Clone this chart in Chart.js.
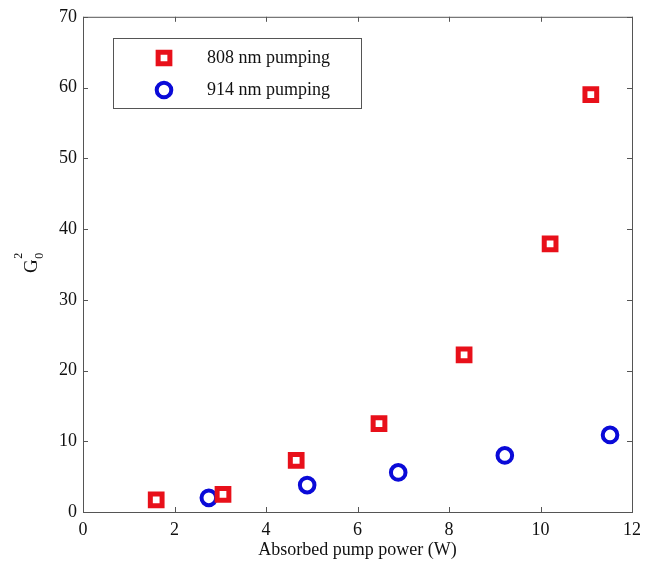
<!DOCTYPE html>
<html>
<head>
<meta charset="utf-8">
<script src="https://cdn.jsdelivr.net/npm/chart.js@4/dist/chart.umd.min.js"></script>
<style>
  html, body { margin: 0; padding: 0; background: #fff; }
  #wrap { width: 654px; height: 563px; }
</style>
</head>
<body>
<div id="wrap"><canvas id="myChart" width="654" height="563"></canvas></div>
<script>
// datos
const power808 = [1.60, 3.06, 4.66, 6.47, 8.33, 10.21, 11.10]
const gain808 = [1.7, 2.5, 7.3, 12.5, 22.2, 37.9, 59.0]
const power914 = [2.75, 4.90, 6.89, 9.22, 11.52]
const gain914 = [2.0, 3.8, 5.6, 8.0, 10.9]
const xTicks = [0, 2, 4, 6, 8, 10, 12]
const yTicks = [0, 10, 20, 30, 40, 50, 60, 70]

const serif = '"Liberation Serif", "DejaVu Serif", serif'
const frameColor = '#555'
const red = '#e8101a'
const blue = '#0a0ad8'

function toPoints(xs, ys) {
    return xs.map((x, i) => ({ x: x, y: ys[i] }))
}

// marco con marcas hacia adentro (estilo matlab)
const framePlugin = {
    id: 'frame',
    afterDraw(chart) {
        const { ctx, chartArea: a, scales } = chart
        ctx.save()
        ctx.strokeStyle = frameColor
        ctx.lineWidth = 1
        ctx.strokeRect(a.left + 0.5, a.top + 0.5, a.right - a.left, a.bottom - a.top)
        ctx.beginPath()
        xTicks.forEach(v => {
            const px = Math.round(scales.x.getPixelForValue(v)) + 0.5
            ctx.moveTo(px, a.bottom); ctx.lineTo(px, a.bottom - 5)
            ctx.moveTo(px, a.top); ctx.lineTo(px, a.top + 5)
        })
        yTicks.forEach(v => {
            const py = Math.round(scales.y.getPixelForValue(v)) + 0.5
            ctx.moveTo(a.left, py); ctx.lineTo(a.left + 5, py)
            ctx.moveTo(a.right, py); ctx.lineTo(a.right - 5, py)
        })
        ctx.stroke()
        ctx.restore()
    }
}

// titulo del eje y: G con superindice 2 y subindice 0
const yTitlePlugin = {
    id: 'yTitle',
    afterDraw(chart) {
        const ctx = chart.ctx
        ctx.save()
        ctx.translate(37, 273)
        ctx.rotate(-Math.PI / 2)
        ctx.fillStyle = '#111'
        ctx.textBaseline = 'alphabetic'
        ctx.textAlign = 'left'
        ctx.font = '19px ' + serif
        ctx.fillText('G', 0, 0)
        const w = ctx.measureText('G').width
        ctx.font = '12px ' + serif
        ctx.fillText('2', w + 0.5, -15)
        ctx.fillText('0', w + 0.5, 6)
        ctx.restore()
    }
}

// leyenda con recuadro dentro del area del grafico
const legendBoxPlugin = {
    id: 'legendBox',
    afterDraw(chart) {
        const ctx = chart.ctx
        ctx.save()
        ctx.strokeStyle = frameColor
        ctx.lineWidth = 1
        ctx.fillStyle = '#fff'
        ctx.fillRect(113, 38, 248, 70)
        ctx.strokeRect(113.5, 38.5, 248, 70)
        const rows = [58, 90]
        chart.data.datasets.forEach((ds, i) => {
            ctx.strokeStyle = ds.borderColor
            ctx.fillStyle = ds.backgroundColor
            ctx.lineWidth = ds.borderWidth
            Chart.helpers.drawPoint(ctx, {
                pointStyle: ds.pointStyle,
                radius: ds.pointRadius,
                borderWidth: ds.borderWidth,
                rotation: 0
            }, 164, rows[i])
            ctx.fillStyle = '#111'
            ctx.font = '18px ' + serif
            ctx.textBaseline = 'middle'
            ctx.textAlign = 'left'
            ctx.fillText(ds.label, 207, rows[i])
        })
        ctx.restore()
    }
}

const ctx = document.getElementById('myChart').getContext('2d')

const myChart = new Chart(ctx, {
    type: 'scatter',
    data: {
        datasets: [{
            label: '808 nm pumping',
            data: toPoints(power808, gain808),
            pointStyle: 'rect',
            pointRadius: 8.3,
            borderWidth: 5,
            borderColor: red,
            backgroundColor: '#fff'
        },
        {
            label: '914 nm pumping',
            data: toPoints(power914, gain914),
            pointStyle: 'circle',
            pointRadius: 7.3,
            borderWidth: 4,
            borderColor: blue,
            backgroundColor: '#fff'
        }]
    },
    options: {
        responsive: false,
        animation: false,
        layout: { padding: { left: 0, right: 22, top: 15, bottom: 0 } },
        plugins: {
            legend: { display: false },
            tooltip: { enabled: false }
        },
        scales: {
            x: {
                type: 'linear',
                min: 0,
                max: 12,
                grid: { display: false, drawTicks: false },
                border: { display: false },
                afterBuildTicks: scale => { scale.ticks = xTicks.map(v => ({ value: v })) },
                afterFit: scale => { scale.height = 51 },
                ticks: {
                    padding: 7,
                    color: '#111',
                    font: { family: serif, size: 18 }
                },
                title: {
                    display: true,
                    text: 'Absorbed pump power (W)',
                    color: '#111',
                    font: { family: serif, size: 18 },
                    padding: { top: 0, bottom: 2 }
                }
            },
            y: {
                type: 'linear',
                min: 0,
                max: 70,
                grid: { display: false, drawTicks: false },
                border: { display: false },
                afterBuildTicks: scale => { scale.ticks = yTicks.map(v => ({ value: v })) },
                afterFit: scale => { scale.width = 83 },
                ticks: {
                    padding: 6,
                    color: '#111',
                    font: { family: serif, size: 18 }
                }
            }
        }
    },
    plugins: [framePlugin, yTitlePlugin, legendBoxPlugin]
})
</script>
</body>
</html>
